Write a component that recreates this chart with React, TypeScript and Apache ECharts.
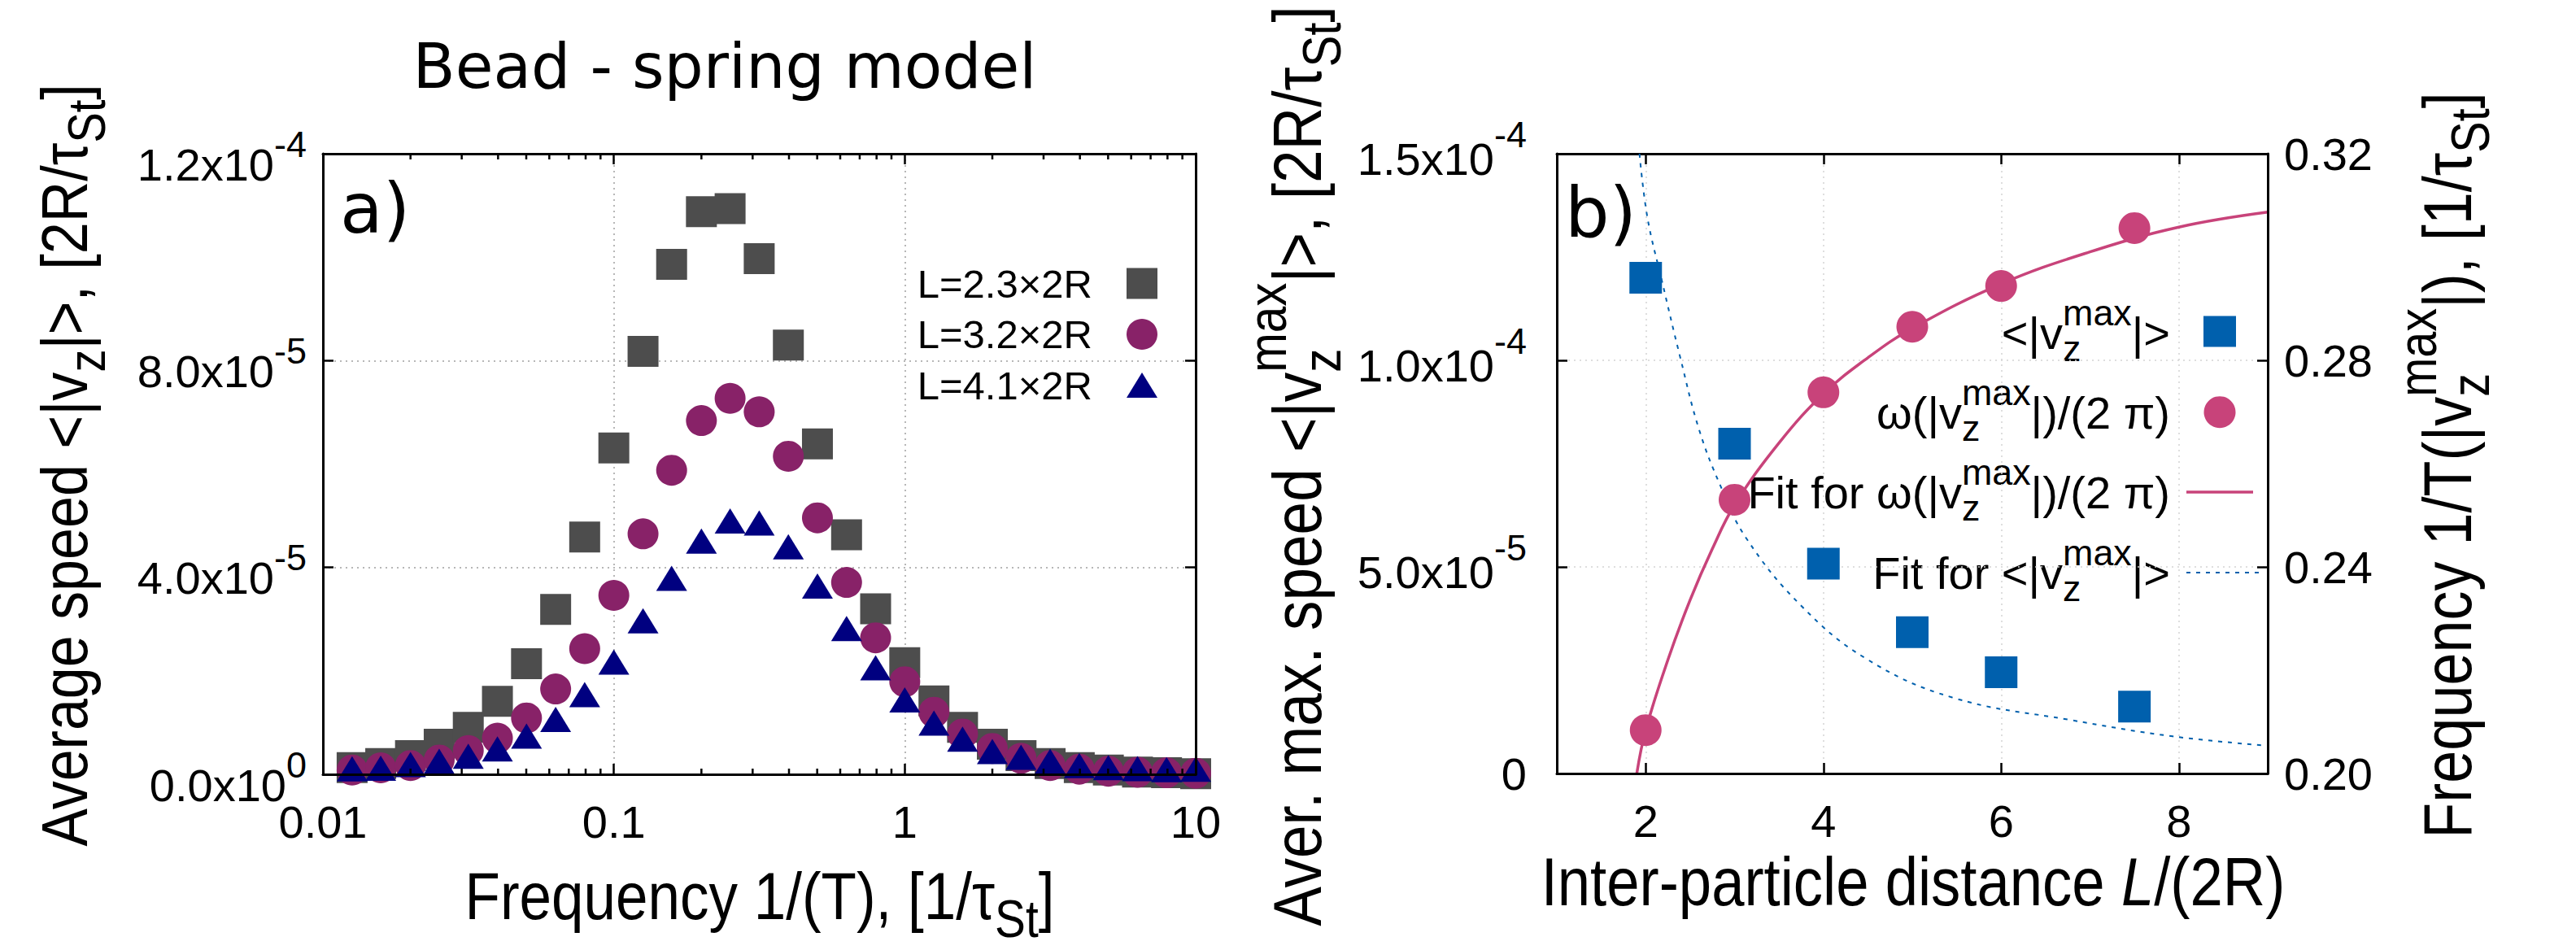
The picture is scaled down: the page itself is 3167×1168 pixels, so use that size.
import React, { useEffect, useRef } from 'react';
import * as echarts from 'echarts';

const SANS = 'Liberation Sans';
const DEJAVU = 'DejaVu Sans';

// ---------- Panel a): bead-spring model, average speed vs. forcing frequency ----------
const frequencies = [
  0.0126, 0.0158, 0.02, 0.0251, 0.0316, 0.0398, 0.0501, 0.0631, 0.0794, 0.1,
  0.126, 0.158, 0.2, 0.251, 0.316, 0.398, 0.501, 0.631, 0.794, 1,
  1.26, 1.58, 2, 2.51, 3.16, 3.98, 5.01, 6.31, 7.94, 10,
];
const speedL23 = [
  1.3e-6, 2.1e-6, 3.6e-6, 5.8e-6, 9.1e-6, 1.41e-5, 2.14e-5, 3.19e-5, 4.59e-5, 6.31e-5,
  8.18e-5, 9.86e-5, 1.088e-4, 1.094e-4, 9.97e-5, 8.3e-5, 6.39e-5, 4.63e-5, 3.2e-5, 2.16e-5,
  1.42e-5, 9.1e-6, 5.8e-6, 3.6e-6, 2.1e-6, 1.3e-6, 8.3e-7, 4.4e-7, 3e-7, 1e-7,
];
const speedL32 = [
  8.3e-7, 1.26e-6, 1.7e-6, 2.77e-6, 4.6e-6, 7.0e-6, 1.09e-5, 1.65e-5, 2.43e-5, 3.46e-5,
  4.65e-5, 5.88e-5, 6.84e-5, 7.27e-5, 7.01e-5, 6.15e-5, 4.96e-5, 3.71e-5, 2.64e-5, 1.79e-5,
  1.2e-5, 7.8e-6, 5.0e-6, 3.1e-6, 1.7e-6, 1.0e-6, 6e-7, 4e-7, 3e-7, 2e-7,
];
const speedL41 = [
  1.05e-6, 1.17e-6, 1.9e-6, 2.5e-6, 3.5e-6, 4.9e-6, 7.4e-6, 1.06e-5, 1.54e-5, 2.17e-5,
  2.97e-5, 3.79e-5, 4.51e-5, 4.9e-5, 4.86e-5, 4.4e-5, 3.64e-5, 2.82e-5, 2.06e-5, 1.44e-5,
  9.9e-6, 6.8e-6, 4.4e-6, 3.3e-6, 2.5e-6, 1.7e-6, 1.3e-6, 1.1e-6, 9e-7, 1.0e-6,
];
const legendA = ['L=2.3×2R', 'L=3.2×2R', 'L=4.1×2R'];
const freqTickLabels = ['0.01', '0.1', '1', '10'];
const freqMinorTicks = [
  0.02, 0.03, 0.04, 0.05, 0.06, 0.07, 0.08, 0.09,
  0.2, 0.3, 0.4, 0.5, 0.6, 0.7, 0.8, 0.9,
  2, 3, 4, 5, 6, 7, 8, 9,
];
const speedTickMantissa = ['0.0', '4.0', '8.0', '1.2'];
const speedTickExponent = ['0', '-5', '-5', '-4'];

// ---------- Panel b): maximum speed and its frequency vs. inter-particle distance ----------
const distances = [2, 3, 4, 5, 6, 7.5];
const maxSpeed = [1.2e-4, 7.98e-5, 5.08e-5, 3.42e-5, 2.45e-5, 1.62e-5];
const maxFrequency = [0.2084, 0.253, 0.2738, 0.2865, 0.2944, 0.3056];
const speedFitL = [1.93, 2.02, 2.18, 2.39, 2.6, 2.84, 3.13, 3.75, 4.48, 5.45, 6.77, 7.93, 8.96];
const speedFitV = [1.5e-4, 1.345e-4, 1.195e-4, 1.006e-4, 8.33e-5, 6.97e-5, 5.7e-5, 4.06e-5, 2.78e-5, 1.84e-5, 1.3e-5, 9.0e-6, 6.8e-6];
const freqFitL = [1.9, 2, 2.25, 2.5, 2.75, 3, 3.5, 4, 4.5, 5, 6, 7, 8, 9];
const freqFitV = [0.2, 0.2084, 0.222, 0.2336, 0.2435, 0.252, 0.264, 0.2735, 0.2805, 0.2862, 0.2948, 0.301, 0.3058, 0.3087];
const distanceTicks = [2, 4, 6, 8];
const maxSpeedMantissa = ['0', '5.0', '1.0', '1.5'];
const maxSpeedExponent = ['', '-5', '-4', '-4'];
const freqTickLabelsB = ['0.20', '0.24', '0.28', '0.32'];

const C_GRAY = '#4d4d4d';
const C_PURPLE = '#882268';
const C_NAVY = '#000080';
const C_BLUE = '#0060ad';
const C_PINK = '#c8437a';

type Seg = { t?: string; sub?: string; sup?: string; it?: boolean };

// Lays out a line of text with sub/superscripts (stacked when both are given),
// baseline at local y = 0, starting at local x = 0.
function layoutLine(ctx: CanvasRenderingContext2D, segs: Seg[], size: number) {
  const small = size * 0.8;
  const kids: any[] = [];
  let x = 0;
  const put = (text: string, fs: number, base: number, italic: boolean, at: number) => {
    const font = `${italic ? 'italic ' : ''}${fs}px "${SANS}"`;
    ctx.font = font;
    const w = ctx.measureText(text).width;
    kids.push({
      type: 'text',
      x: at,
      y: base - 0.35 * fs,
      silent: true,
      style: { text, font, fill: '#000', align: 'left', verticalAlign: 'middle' },
    });
    return w;
  };
  for (const s of segs) {
    if (s.t !== undefined) {
      x += put(s.t, size, 0, !!s.it, x);
    } else {
      let w = 0;
      if (s.sub) w = Math.max(w, put(s.sub, small, 0.27 * size, false, x));
      if (s.sup) w = Math.max(w, put(s.sup, small, -0.52 * size, false, x));
      x += w;
    }
  }
  return { kids, width: x };
}

export default function App() {
  const ref = useRef<HTMLDivElement>(null);

  useEffect(() => {
    if (!ref.current) return;
    const chart = echarts.init(ref.current, null, { renderer: 'svg' });
    const ctx = document.createElement('canvas').getContext('2d') as CanvasRenderingContext2D;

    // axis titles are set in a slightly tall letterform
    const TALL = 1.15;
    const centered = (segs: Seg[], size: number, cx: number, baseline: number, sy = 1) => {
      const { kids, width } = layoutLine(ctx, segs, size);
      return { type: 'group', x: cx - width / 2, y: baseline, scaleY: sy, children: kids };
    };
    const rightAligned = (segs: Seg[], size: number, right: number, baseline: number) => {
      const { kids, width } = layoutLine(ctx, segs, size);
      return { type: 'group', x: right - width, y: baseline, children: kids };
    };
    const vertical = (segs: Seg[], size: number, baselineX: number, cy: number, sy = 1) => {
      const { kids, width } = layoutLine(ctx, segs, size);
      return {
        type: 'group',
        x: baselineX,
        y: cy,
        rotation: Math.PI / 2,
        children: [{ type: 'group', x: -width / 2, y: 0, scaleY: sy, children: kids }],
      };
    };

    const titles = [
      vertical([{ t: 'Average speed <|v' }, { sub: 'z' }, { t: '|>, [2R/τ' }, { sub: 'St' }, { t: ']' }], 70, 107, 572, TALL),
      centered([{ t: 'Frequency 1/(T), [1/τ' }, { sub: 'St' }, { t: ']' }], 71, 934, 1130, TALL),
      vertical([{ t: 'Aver. max. speed <|v' }, { sub: 'z', sup: 'max' }, { t: '|>, [2R/τ' }, { sub: 'St' }, { t: ']' }], 73, 1625, 573, TALL),
      centered([{ t: 'Inter-particle distance ' }, { t: 'L', it: true }, { t: '/(2R)' }], 72.5, 2352, 1113, TALL),
      vertical([{ t: 'Frequency 1/T(|v' }, { sub: 'z', sup: 'max' }, { t: '|), [1/τ' }, { sub: 'St' }, { t: ']' }], 72, 3038, 572, TALL),
    ];

    // legend of panel a)
    const legA: any[] = [];
    const rowsA = [348.5, 411, 473.5];
    const symA = 1404;
    legendA.forEach((label, i) => {
      legA.push({
        type: 'text', x: 1343, y: rowsA[i] + 0.358 * 49 - 0.35 * 49, silent: true,
        style: { text: label, font: `49px "${SANS}"`, fill: '#000', align: 'right', verticalAlign: 'middle' },
      });
    });
    legA.push({ type: 'rect', shape: { x: symA - 19, y: rowsA[0] - 19, width: 38, height: 38 }, style: { fill: C_GRAY } });
    legA.push({ type: 'circle', shape: { cx: symA, cy: rowsA[1], r: 19 }, style: { fill: C_PURPLE } });
    legA.push({
      type: 'polygon',
      shape: { points: [[symA, rowsA[2] - 15.5], [symA - 19, rowsA[2] + 15.5], [symA + 19, rowsA[2] + 15.5]] },
      style: { fill: C_NAVY },
    });

    // legend of panel b)
    const rowsB = [407.6, 506.7, 605, 704];
    const symB = 2729;
    const LEG_B = 56;
    const legB: any[] = [
      rightAligned([{ t: '<|v' }, { sub: 'z', sup: 'max' }, { t: '|>' }], LEG_B, 2668, rowsB[0] + 21),
      rightAligned([{ t: 'ω(|v' }, { sub: 'z', sup: 'max' }, { t: '|)/(2 π)' }], LEG_B, 2668, rowsB[1] + 20),
      rightAligned([{ t: 'Fit for ω(|v' }, { sub: 'z', sup: 'max' }, { t: '|)/(2 π)' }], LEG_B, 2668, rowsB[2] + 20),
      rightAligned([{ t: 'Fit for <|v' }, { sub: 'z', sup: 'max' }, { t: '|>' }], LEG_B, 2668, rowsB[3] + 20),
      { type: 'rect', shape: { x: symB - 20, y: rowsB[0] - 19, width: 40, height: 38 }, style: { fill: C_BLUE } },
      { type: 'circle', shape: { cx: symB, cy: rowsB[1], r: 19.5 }, style: { fill: C_PINK } },
      { type: 'line', shape: { x1: 2688, y1: rowsB[2], x2: 2770, y2: rowsB[2] }, style: { stroke: C_PINK, lineWidth: 3.5 } },
      { type: 'line', shape: { x1: 2688, y1: rowsB[3], x2: 2780, y2: rowsB[3] }, style: { stroke: C_BLUE, lineWidth: 2, lineDash: [5, 7] } },
    ];

    const graphicEls: any[] = [
      {
        type: 'text', x: 891, y: 81, silent: true,
        style: { text: 'Bead - spring model', font: `76px "${DEJAVU}"`, fill: '#000', align: 'center', verticalAlign: 'middle' },
      },
      {
        type: 'text', x: 418, y: 256, silent: true,
        style: { text: 'a)', font: `86px "${DEJAVU}"`, fill: '#000', align: 'left', verticalAlign: 'middle' },
      },
      {
        type: 'text', x: 1924, y: 261, silent: true,
        style: { text: 'b)', font: `86px "${DEJAVU}"`, fill: '#000', align: 'left', verticalAlign: 'middle' },
      },
      ...titles,
      ...legA,
      ...legB,
    ];

    const axisLine = { show: true, onZero: false, lineStyle: { color: '#000', width: 3 } };
    const tick = { show: true, inside: true, length: 13, lineStyle: { color: '#000', width: 2.5 } };
    const gridLineA = { show: true, lineStyle: { color: '#a0a0a0', width: 1.5, type: [2, 5] } };
    const gridLineB = { show: true, lineStyle: { color: '#d4d4d4', width: 1.5, type: [2, 5] } };
    const labelBase = { fontSize: 56, fontFamily: SANS, color: '#000' };

    const option: any = {
      animation: false,
      backgroundColor: '#ffffff',
      grid: [
        { left: 397, top: 189, width: 1073, height: 763, containLabel: false },
        { left: 1914, top: 189, width: 874, height: 762, containLabel: false },
      ],
      xAxis: [
        {
          gridIndex: 0, type: 'log', logBase: 10, min: 0.01, max: 10, position: 'bottom', z: 10,
          axisLine, axisTick: tick,
          axisLabel: { ...labelBase, margin: 30, formatter: (_v: number, i: number) => freqTickLabels[i] ?? '' },
          splitLine: { show: false },
        },
        {
          gridIndex: 0, type: 'log', logBase: 10, min: 0.01, max: 10, position: 'top', z: 0,
          axisLine, axisTick: tick, axisLabel: { show: false }, splitLine: gridLineA,
        },
        {
          gridIndex: 1, type: 'value', min: 1, max: 9, splitNumber: 4, position: 'bottom', z: 10,
          axisLine, axisTick: tick,
          axisLabel: {
            ...labelBase, margin: 30, showMinLabel: false, showMaxLabel: false,
            formatter: (v: number) => (distanceTicks.includes(v) ? String(v) : ''),
          },
          splitLine: { show: false },
        },
        {
          gridIndex: 1, type: 'value', min: 1, max: 9, splitNumber: 4, position: 'top', z: 0,
          axisLine, axisTick: tick, axisLabel: { show: false }, splitLine: gridLineB,
        },
      ],
      yAxis: [
        {
          gridIndex: 0, type: 'value', min: 0, max: 1.2e-4, interval: 4e-5, position: 'left', z: 0,
          axisLine, axisTick: tick,
          axisLabel: {
            margin: 20,
            formatter: (_v: number, i: number) => `{m|${speedTickMantissa[i]}x10}{s|${speedTickExponent[i]}}`,
            rich: {
              m: { ...labelBase, padding: [26, 0, 0, 0], verticalAlign: 'middle' },
              s: { ...labelBase, fontSize: 45, padding: [0, 0, 24, 0], verticalAlign: 'middle' },
            },
          },
          splitLine: gridLineA,
        },
        {
          gridIndex: 0, type: 'value', min: 0, max: 1.2e-4, interval: 4e-5, position: 'right', z: 10,
          axisLine, axisTick: tick, axisLabel: { show: false }, splitLine: { show: false },
        },
        {
          gridIndex: 1, type: 'value', min: 0, max: 1.5e-4, interval: 5e-5, position: 'left', z: 0,
          axisLine, axisTick: tick,
          axisLabel: {
            margin: 37,
            formatter: (_v: number, i: number) =>
              maxSpeedExponent[i] ? `{m|${maxSpeedMantissa[i]}x10}{s|${maxSpeedExponent[i]}}` : `{z|${maxSpeedMantissa[i]}}`,
            rich: {
              m: { ...labelBase, padding: [12, 0, 0, 0], verticalAlign: 'middle' },
              s: { ...labelBase, fontSize: 45, padding: [0, 0, 48, 0], verticalAlign: 'middle' },
              z: { ...labelBase },
            },
          },
          splitLine: gridLineB,
        },
        {
          gridIndex: 1, type: 'value', min: 0.2, max: 0.32, interval: 0.04, position: 'right', z: 10,
          axisLine, axisTick: tick,
          axisLabel: { ...labelBase, margin: 20, formatter: (_v: number, i: number) => freqTickLabelsB[i] ?? '' },
          splitLine: { show: false },
        },
      ],
      series: [
        {
          type: 'scatter', name: legendA[0], xAxisIndex: 0, yAxisIndex: 0, z: 2,
          data: frequencies.map((f, i) => [f, speedL23[i]]),
          symbol: 'rect', symbolSize: 38, itemStyle: { color: C_GRAY, opacity: 1 },
        },
        {
          type: 'scatter', name: legendA[1], xAxisIndex: 0, yAxisIndex: 0, z: 3,
          data: frequencies.map((f, i) => [f, speedL32[i]]),
          symbol: 'circle', symbolSize: 38, itemStyle: { color: C_PURPLE, opacity: 1 },
        },
        {
          type: 'scatter', name: legendA[2], xAxisIndex: 0, yAxisIndex: 0, z: 4,
          data: frequencies.map((f, i) => [f, speedL41[i]]),
          symbol: 'triangle', symbolSize: [38, 31], itemStyle: { color: C_NAVY, opacity: 1 },
        },
        {
          // minor ticks of the logarithmic frequency axis, bottom and top
          type: 'custom', xAxisIndex: 0, yAxisIndex: 0, z: 11, silent: true,
          data: freqMinorTicks.map((v) => [v, 0]),
          renderItem: (_p: any, api: any) => {
            const x = api.value(0);
            const b = api.coord([x, 0]);
            const t = api.coord([x, 1.2e-4]);
            const st = { stroke: '#000', lineWidth: 2.5 };
            return {
              type: 'group',
              children: [
                { type: 'line', shape: { x1: b[0], y1: b[1], x2: b[0], y2: b[1] - 7 }, style: st },
                { type: 'line', shape: { x1: t[0], y1: t[1], x2: t[0], y2: t[1] + 7 }, style: st },
              ],
            };
          },
        },
        {
          type: 'line', name: 'Fit for <|vz max|>', xAxisIndex: 2, yAxisIndex: 2, z: 2,
          data: speedFitL.map((l, i) => [l, speedFitV[i]]),
          showSymbol: false, symbol: 'none', smooth: 0.4,
          lineStyle: { color: C_BLUE, width: 2, type: [5, 7] },
        },
        {
          type: 'line', name: 'Fit for ω', xAxisIndex: 2, yAxisIndex: 3, z: 3,
          data: freqFitL.map((l, i) => [l, freqFitV[i]]),
          showSymbol: false, symbol: 'none', smooth: 0.4,
          lineStyle: { color: C_PINK, width: 3.5 },
        },
        {
          type: 'scatter', name: '<|vz max|>', xAxisIndex: 2, yAxisIndex: 2, z: 4,
          data: distances.map((d, i) => [d, maxSpeed[i]]),
          symbol: 'rect', symbolSize: [40, 39], itemStyle: { color: C_BLUE, opacity: 1 },
        },
        {
          type: 'scatter', name: 'ω/(2π)', xAxisIndex: 2, yAxisIndex: 3, z: 5,
          data: distances.map((d, i) => [d, maxFrequency[i]]),
          symbol: 'circle', symbolSize: 39, itemStyle: { color: C_PINK, opacity: 1 },
        },
      ],
      graphic: { elements: graphicEls },
    };

    chart.setOption(option);
    return () => chart.dispose();
  }, []);

  return (
    <div
      ref={ref}
      style={{ position: 'absolute', left: 0, top: 0, width: 3167, height: 1168, background: '#fff' }}
    />
  );
}
